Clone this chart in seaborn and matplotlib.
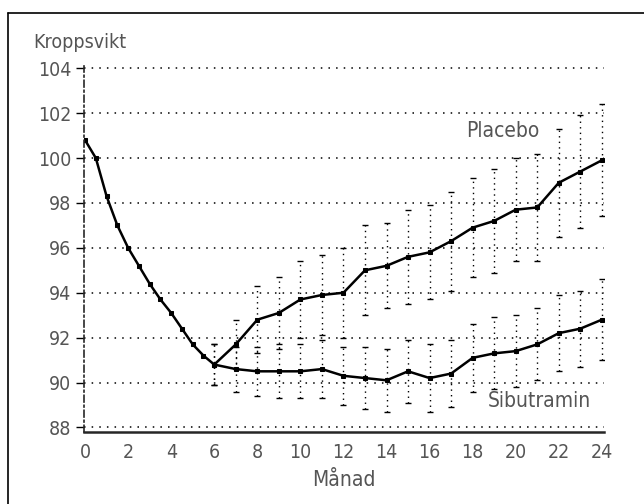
import numpy as np
import pandas as pd
import seaborn as sns
import matplotlib.pyplot as plt
from matplotlib.lines import Line2D

# Data (kg vs month)
runin_month = [0, 0.5, 1, 1.5, 2, 2.5, 3, 3.5, 4, 4.5, 5, 5.5, 6]
runin_kg = [100.8, 100.0, 98.3, 97.0, 96.0, 95.2, 94.4, 93.7, 93.1, 92.4, 91.7, 91.2, 90.8]

months = [6, 7, 8, 9, 10, 11, 12, 13, 14, 15, 16, 17, 18, 19, 20, 21, 22, 23, 24]
placebo_kg = [90.8, 91.7, 92.8, 93.1, 93.7, 93.9, 94.0, 95.0, 95.2, 95.6,
              95.8, 96.3, 96.9, 97.2, 97.7, 97.8, 98.9, 99.4, 99.9]
placebo_err = [0.9, 1.1, 1.5, 1.6, 1.7, 1.8, 2.0, 2.0, 1.9, 2.1,
               2.1, 2.2, 2.2, 2.3, 2.3, 2.4, 2.4, 2.5, 2.5]
sibutramin_kg = [90.8, 90.6, 90.5, 90.5, 90.5, 90.6, 90.3, 90.2, 90.1, 90.5,
                 90.2, 90.4, 91.1, 91.3, 91.4, 91.7, 92.2, 92.4, 92.8]
sibutramin_err = [0.9, 1.0, 1.1, 1.2, 1.2, 1.3, 1.3, 1.4, 1.4, 1.4,
                  1.5, 1.5, 1.5, 1.6, 1.6, 1.6, 1.7, 1.7, 1.8]

x_ticks = list(range(0, 25, 2))
y_ticks = list(range(88, 105, 2))

df = pd.concat([
    pd.DataFrame({"Månad": runin_month, "kg": runin_kg, "grupp": "Inkörning"}),
    pd.DataFrame({"Månad": months, "kg": placebo_kg, "grupp": "Placebo"}),
    pd.DataFrame({"Månad": months, "kg": sibutramin_kg, "grupp": "Sibutramin"}),
])

sns.set_style("white")
plt.rcParams["font.family"] = ["DejaVu Sans"]
plt.rcParams["font.stretch"] = "condensed"
txt = "#555555"

fig = plt.figure(figsize=(6.44, 5.04), dpi=100)
ax = fig.add_axes([0.1304, 0.143, 0.8075, 0.726])

# error bars (dotted, like the scan)
for y, e in [(placebo_kg, placebo_err), (sibutramin_kg, sibutramin_err)]:
    eb = ax.errorbar(months, y, yerr=e, fmt="none", ecolor="black",
                     elinewidth=1.0, capsize=2.5, capthick=1.0)
    eb[2][0].set_linestyle((0, (1, 3)))

sns.lineplot(data=df, x="Månad", y="kg", hue="grupp",
             palette=["black", "black", "black"], marker="s", markersize=3.5,
             markeredgecolor="black", linewidth=1.8, legend=False, ax=ax)

ax.set_xlim(-0.05, 24.1)
ax.set_ylim(87.8, 104.1)
ax.set_xticks(x_ticks)
ax.set_yticks(y_ticks)
ax.tick_params(axis="both", labelsize=14, labelcolor=txt, color="black",
               width=1, direction="out")
ax.tick_params(axis="x", length=0, pad=8)
ax.tick_params(axis="y", left=True, length=6, pad=3)

ax.yaxis.grid(True, linestyle=(0, (1, 4)), color="black", linewidth=1.1)
ax.xaxis.grid(False)
sns.despine(ax=ax)
ax.spines["left"].set_linestyle((0, (4, 2, 1, 2)))
ax.spines["left"].set_linewidth(1.2)
ax.spines["bottom"].set_linewidth(1.8)

ax.set_xlabel("Månad", fontsize=15, color=txt, labelpad=6)
ax.set_ylabel("")
fig.text(0.051, 0.915, "Kroppsvikt", fontsize=14, color=txt, ha="left", va="center")
ax.text(17.7, 101.2, "Placebo", fontsize=15, color=txt, ha="left", va="center")
ax.text(18.7, 89.2, "Sibutramin", fontsize=15, color=txt, ha="left", va="center")

# outer frame of the scanned figure (top and left edges)
fig.add_artist(Line2D([8 / 644, 1.0], [1 - 13 / 504, 1 - 13 / 504],
                      transform=fig.transFigure, color="black", linewidth=1.2))
fig.add_artist(Line2D([8 / 644, 8 / 644], [0.0, 1 - 13 / 504],
                      transform=fig.transFigure, color="black", linewidth=1.2))

fig.savefig("out.png", dpi=100)
